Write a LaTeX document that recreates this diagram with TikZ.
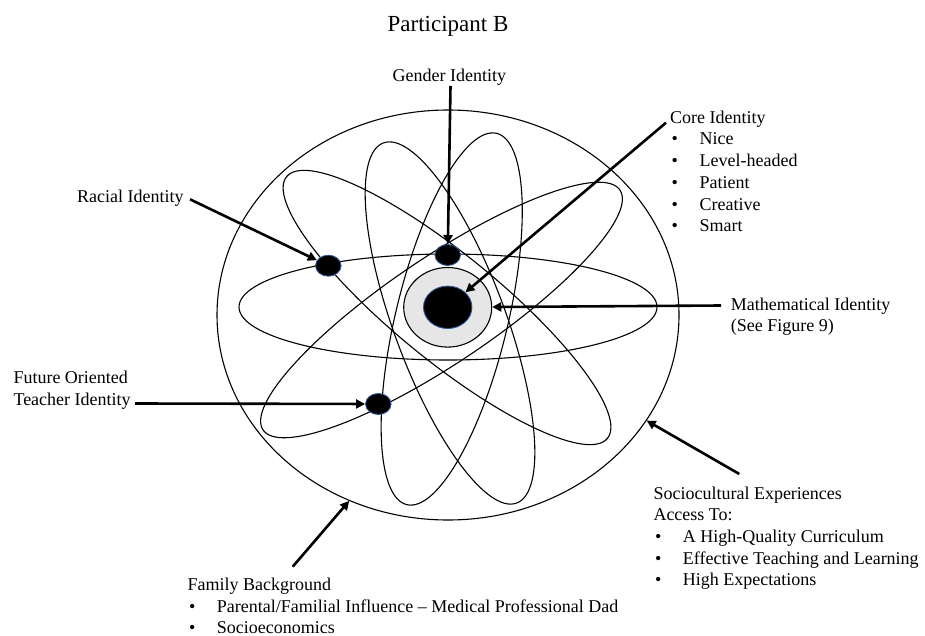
\documentclass[tikz,border=0pt]{standalone}
\usepackage{fontspec}
\setmainfont{Liberation Serif}
\usetikzlibrary{shapes.geometric,arrows.meta}
\definecolor{nodeblue}{HTML}{2F5597}
\definecolor{nucgray}{HTML}{E6E6E6}
\newcommand\itembul{\makebox[29.4pt][l]{\hspace{1.5pt}•}}
\begin{document}
\begin{tikzpicture}[x=1pt,y=-1pt,
  orbit/.style={line width=1.1pt},
  elec/.style={ellipse, fill=black, draw=nodeblue, line width=0.9pt, inner sep=0pt, minimum width=25.5pt, minimum height=21pt},
  txt/.style={inner sep=0pt, anchor=base west, font=\fontsize{18}{21.7}\selectfont},
  pointer/.style={line width=2.6pt, -{Triangle[length=9pt,width=9pt]}}
]
\useasboundingbox (0,0) rectangle (925,636);
% outer boundary
\node[ellipse, draw, line width=1.1pt, inner sep=0pt, minimum width=462pt, minimum height=410pt] (outer) at (448,315) {};
% orbits
\draw[orbit] (448,307) ellipse [x radius=209, y radius=53];
\draw[orbit, rotate around={-39.2:(447,307.5)}] (447,307.5) ellipse [x radius=207, y radius=53];
\draw[orbit, rotate around={33.9:(441.5,310)}] (441.5,310) ellipse [x radius=215, y radius=53];
\draw[orbit, rotate around={110.3:(450,323)}] (450,323) ellipse [x radius=192, y radius=56];
\draw[orbit, rotate around={76.4:(451.7,319)}] (451.7,319) ellipse [x radius=191, y radius=56];
% nucleus and electrons
\node[ellipse, fill=nucgray, draw, line width=1.1pt, inner sep=0pt, minimum width=88pt, minimum height=79.6pt] (nuc) at (447.7,307.3) {};
\node[elec, minimum width=48.4pt, minimum height=42.4pt] (core) at (447.7,307.3) {};
\node[elec] (gen) at (447.7,255) {};
\node[elec] (rac) at (328.3,265.7) {};
\node[elec] (fut) at (378.3,404) {};
% labels
\node[inner sep=0pt, anchor=base, font=\fontsize{23}{27}\selectfont] (title) at (448,31.7) {Participant B};
\node[txt, anchor=base] (genlbl) at (449.3,81.7) {Gender Identity};
\node[txt] (raclbl) at (77,203) {Racial Identity};
\node[txt] (corelbl) at (670,123.3) {\begin{tabular}[t]{@{}l@{}}Core Identity\\
\itembul Nice\\ \itembul Level-headed\\ \itembul Patient\\ \itembul Creative\\ \itembul Smart\end{tabular}};
\node[txt] (mathlbl) at (730.7,310) {\begin{tabular}[t]{@{}l@{}}Mathematical Identity\\ (See Figure 9)\end{tabular}};
\node[txt] (futlbl) at (13.3,383.3) {\begin{tabular}[t]{@{}l@{}}Future Oriented\\ Teacher Identity\end{tabular}};
\node[txt] (soclbl) at (653.3,499) {\begin{tabular}[t]{@{}l@{}}Sociocultural Experiences\\ Access To:\\
\itembul A High-Quality Curriculum\\ \itembul Effective Teaching and Learning\\ \itembul High Expectations\end{tabular}};
\node[txt] (famlbl) at (187.3,590.5) {\begin{tabular}[t]{@{}l@{}}Family Background\\
\itembul Parental/Familial Influence – Medical Professional Dad\\ \itembul Socioeconomics\end{tabular}};
% arrow starts
\coordinate (gs) at (450.5,86);
\coordinate (rs) at (190,199.3);
\coordinate (cs) at (666,122.7);
\coordinate (ms) at (721,305.5);
\coordinate (fs) at (135,403.5);
\coordinate (ss) at (739.3,474);
\coordinate (fbs) at (292.7,566.7);
% arrows
\draw[pointer] (gs) -- (gen);
\draw[pointer] (rs) -- (rac);
\draw[pointer] (cs) -- (core);
\draw[pointer] (ms) -- (nuc);
\draw[pointer] (fs) -- (fut);
\draw[pointer] (ss) -- (outer.-28.8);
\draw[pointer] (fbs) -- (outer.-118.5);
\end{tikzpicture}
\end{document}
